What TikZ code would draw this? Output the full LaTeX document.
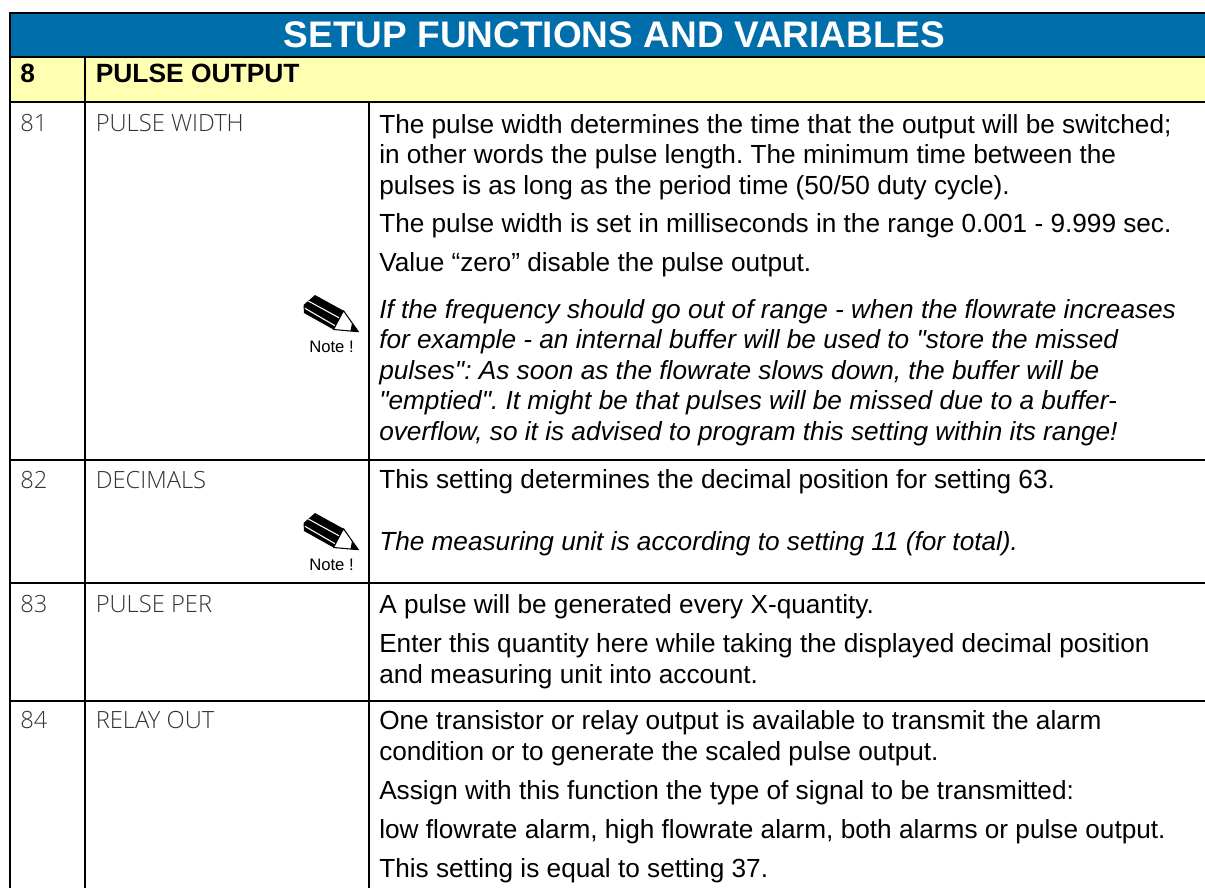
\documentclass[tikz,border=0pt]{standalone}
\usepackage{fontspec}
\setmainfont{Liberation Sans}
\newfontfamily\thinfont{Open Sans Light}
\newfontfamily\qfont{Liberation Sans}
\definecolor{hdrblue}{RGB}{0,110,170}
\definecolor{hdryellow}{RGB}{255,255,178}
\definecolor{thingray}{RGB}{50,50,50}
\newcommand{\qq}{{\qfont"}}
\tikzset{
  rule/.style={line width=1.5pt,black},
  bodytext/.style={anchor=base west,inner sep=0pt,font=\fontsize{19.65pt}{23pt}\selectfont\frenchspacing},
  bodyital/.style={bodytext,font=\fontsize{19.65pt}{23pt}\selectfont\itshape\frenchspacing},
  thintext/.style={anchor=base west,inner sep=0pt,text=thingray,font=\thinfont\fontsize{17.8pt}{21pt}\selectfont},
  sectext/.style={anchor=base west,inner sep=0pt,font=\fontsize{19.8pt}{23pt}\selectfont\bfseries},
  titletext/.style={anchor=base,inner sep=0pt,text=white,font=\fontsize{27.75pt}{30pt}\selectfont\bfseries},
  notetext/.style={anchor=base,inner sep=0pt,font=\fontsize{12.5pt}{14pt}\selectfont},
  pics/notepencil/.style={code={
    \fill[black,line join=round] (25,5) -- (53.5,20.7) -- (43.5,39.5) -- (14,23) -- (13.5,15) -- cycle;
    \draw[white,line width=0.8pt] (18.3,11) -- (50,28.3);
    \draw[white,line width=0.8pt] (15,18.3) -- (45,35.7);
    \draw[black,fill=white,line width=0.8pt,line join=round] (53.5,20.7) -- (68.3,41.7) -- (43.5,39.5) -- cycle;
    \fill[black] (68.6,42) -- (62,33) -- (60.5,41) -- cycle;
  }},
}
\begin{document}
\begin{tikzpicture}[x=0.75pt,y=-0.75pt]
\useasboundingbox (0,0) rectangle (1205,888);
\fill[hdrblue] (10,13) rectangle (1205,57);
\fill[hdryellow] (10,57) rectangle (1205,102);
\draw[rule] (1205,13) -- (10,13) -- (10,888);
\draw[rule] (10,57) -- (1205,57);
\draw[rule] (10,102.5) -- (1205,102.5);
\draw[rule] (85,57) -- (85,888);
\draw[rule] (369,102.5) -- (369,888);
\draw[rule] (10,460) -- (1205,460);
\draw[rule] (10,583) -- (1205,583);
\draw[rule] (10,700.5) -- (1205,700.5);
\node[titletext] (title) at (614.5,48) {SETUP FUNCTIONS AND VARIABLES};
\node[sectext] (n8) at (20,83) {8};
\node[sectext] (n8t) at (95.5,83) {PULSE OUTPUT};
\node[thintext] (a1) at (20,132) {81};
\node[thintext] (a2) at (95.5,132) {PULSE WIDTH};
\node[thintext] (b1) at (20,488) {82};
\node[thintext] (b2) at (95.5,488) {DECIMALS};
\node[thintext] (c1) at (20,612) {83};
\node[thintext] (c2) at (95.5,612) {PULSE PER};
\node[thintext] (d1) at (20,728) {84};
\node[thintext] (d2) at (95.5,728) {RELAY OUT};
\pic at (290,290) {notepencil};
\pic at (290,508) {notepencil};
\node[notetext] (note1) at (331.5,352) {Note !};
\node[notetext] (note2) at (331.5,570) {Note !};
\node[bodytext] (t1) at (379,133) {The pulse width determines the time that the output will be switched;};
\node[bodytext] (t2) at (379,163.5) {in other words the pulse length. The minimum time between the};
\node[bodytext] (t3) at (379,194) {pulses is as long as the period time (50/50 duty cycle).};
\node[bodytext] (t4) at (379,232) {The pulse width is set in milliseconds in the range 0.001 - 9.999 sec.};
\node[bodytext] (t5) at (379,271) {Value “zero” disable the pulse output.};
\node[bodyital] (t6) at (379,318) {If the frequency should go out of range - when the flowrate increases};
\node[bodyital] (t7) at (379,348.5) {for example - an internal buffer will be used to \qq store the missed};
\node[bodyital] (t8) at (379,379) {pulses\qq: As soon as the flowrate slows down, the buffer will be};
\node[bodyital] (t9) at (379,409.5) {\qq emptied\qq. It might be that pulses will be missed due to a buffer-};
\node[bodyital] (t10) at (379,440) {overflow, so it is advised to program this setting within its range!};
\node[bodytext] (u1) at (379,488) {This setting determines the decimal position for setting 63.};
\node[bodyital] (u2) at (379,550) {The measuring unit is according to setting 11 (for total).};
\node[bodytext] (v1) at (379,613) {A pulse will be generated every X-quantity.};
\node[bodytext] (v2) at (379,652) {Enter this quantity here while taking the displayed decimal position};
\node[bodytext] (v3) at (379,683) {and measuring unit into account.};
\node[bodytext] (w1) at (379,729) {One transistor or relay output is available to transmit the alarm};
\node[bodytext] (w2) at (379,760) {condition or to generate the scaled pulse output.};
\node[bodytext] (w3) at (379,799) {Assign with this function the type of signal to be transmitted:};
\node[bodytext] (w4) at (379,838) {low flowrate alarm, high flowrate alarm, both alarms or pulse output.};
\node[bodytext] (w5) at (379,877) {This setting is equal to setting 37.};
\end{tikzpicture}
\end{document}
